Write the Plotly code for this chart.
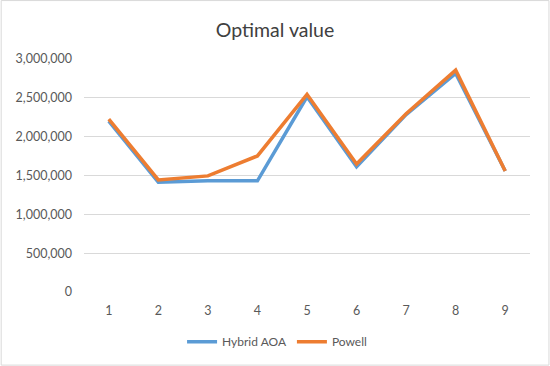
import plotly.graph_objects as go

categories = [1, 2, 3, 4, 5, 6, 7, 8, 9]
hybrid_aoa = [2200000, 1414000, 1434000, 1431000, 2514000, 1614000, 2285000, 2815000, 1559000]
powell = [2227000, 1443000, 1495000, 1752000, 2545000, 1649000, 2295000, 2857000, 1559000]
y_ticks = [0, 500000, 1000000, 1500000, 2000000, 2500000, 3000000]

font = "Lato, Open Sans, sans-serif"
fig = go.Figure()
fig.add_trace(go.Scatter(x=categories, y=hybrid_aoa, mode="lines", name="Hybrid AOA",
                         line=dict(color="#5B9BD5", width=3.5)))
fig.add_trace(go.Scatter(x=categories, y=powell, mode="lines", name="Powell",
                         line=dict(color="#ED7D31", width=3.5)))

L, R, T, B = 83.5, 19.5, 59, 73.7
W, H = 550, 366
pw, ph = W - L - R, H - T - B
fig.update_layout(
    width=W, height=H,
    margin=dict(l=L, r=R, t=T, b=B, autoexpand=False),
    paper_bgcolor="white", plot_bgcolor="white",
    title=dict(text="Optimal value", x=275 / W, xanchor="center",
               y=1 - 30 / H, yanchor="middle",
               font=dict(family=font, size=19.5, color="#404040")),
    xaxis=dict(range=[0.5, 9.5], tickmode="array", tickvals=categories,
               ticktext=[str(c) for c in categories], showgrid=False, zeroline=False,
               showline=False, ticks="", ticklabelstandoff=9,
               tickfont=dict(family=font, size=12.5, color="#595959")),
    yaxis=dict(range=[0, 3000000], tickvals=y_ticks, tickformat=",d", showgrid=True,
               gridcolor="#d9d9d9", gridwidth=1, zeroline=False, showline=False, ticks="",
               ticklabelstandoff=11, tickfont=dict(family=font, size=12.5, color="#595959")),
    legend=dict(orientation="h", x=(277 - L) / pw, xanchor="center", y=-(342 - 292.3) / ph,
                yanchor="middle", font=dict(family=font, size=12, color="#595959"),
                itemwidth=30),
    shapes=[dict(type="rect", xref="paper", yref="paper",
                 x0=-(L - 0.5) / pw, x1=(W - 0.5 - L) / pw,
                 y0=-(H - 0.5 - (H - B)) / ph, y1=1 + (T - 0.5) / ph,
                 line=dict(color="#d9d9d9", width=1), layer="below")],
)
fig.write_html("out.html", post_script="document.body.style.margin='0';",
               config={"displayModeBar": False})
